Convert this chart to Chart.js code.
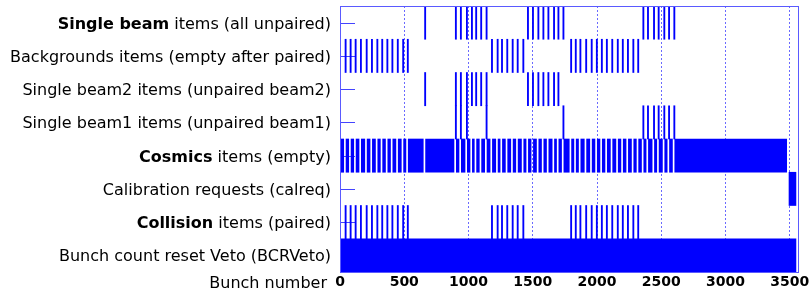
<!DOCTYPE html>
<html>
<head>
<meta charset="utf-8">
<script src="https://cdn.jsdelivr.net/npm/chart.js@4.4.1/dist/chart.umd.min.js"></script>
<style>
  html, body { margin: 0; padding: 0; background: #fff; }
  #wrap { width: 809px; height: 294px; }
</style>
</head>
<body>
<div id="wrap"><canvas id="bunchChart" width="809" height="294"></canvas></div>
<script>
// ── DATA ──────────────────────────────────────────────────────────────────────

// rows, top to bottom, with the part of each label that is printed in bold
const rowNames = [
  "Single beam items (all unpaired)",
  "Backgrounds items (empty after paired)",
  "Single beam2 items (unpaired beam2)",
  "Single beam1 items (unpaired beam1)",
  "Cosmics items (empty)",
  "Calibration requests (calreq)",
  "Collision items (paired)",
  "Bunch count reset Veto (BCRVeto)"
];
const rowBold = ["Single beam", "", "", "", "Cosmics", "", "Collision", ""];

const bunchCount = 3564;
const xTickValues = [0, 500, 1000, 1500, 2000, 2500, 3000, 3500];
const xTitle = "Bunch number";

// filled bunch numbers per row
const singleBeamBunches = [658, 897, 936, 983, 1022, 1055, 1094, 1136, 1458, 1497, 1539, 1578, 1617, 1661, 1695, 1734,
  2356, 2392, 2439, 2475, 2519, 2556, 2597];
const backgroundBunches = [39, 78, 117, 158, 203, 244, 286, 324, 364, 403, 445, 487, 523,
  1178, 1222, 1256, 1297, 1339, 1378, 1422,
  1794, 1830, 1866, 1911, 1954, 1994, 2033, 2072, 2114, 2157, 2196, 2236, 2278, 2316];
const beam2Bunches = [658, 897, 936, 983, 1022, 1055, 1094, 1136, 1458, 1497, 1539, 1578, 1617, 1661, 1695];
const beam1Bunches = [897, 936, 983, 1136, 1734, 2356, 2392, 2439, 2475, 2519, 2556, 2597];
const collisionBunches = [39, 78, 117, 158, 203, 244, 286, 324, 364, 403, 445, 487, 523,
  1178, 1222, 1256, 1297, 1339, 1378, 1422,
  1794, 1830, 1866, 1911, 1954, 1994, 2033, 2072, 2114, 2157, 2196, 2236, 2278, 2316];

// ranges [first, last] for the rows that are mostly filled
const cosmicsRanges = [
  [0, 29], [47, 68], [86, 107], [125, 148], [166, 193], [211, 234], [252, 276], [294, 314], [332, 354],
  [372, 393], [411, 435], [453, 477], [495, 513], [531, 648], [666, 887], [905, 926], [944, 973],
  [991, 1012], [1030, 1045], [1063, 1084], [1102, 1126], [1144, 1168], [1186, 1212], [1230, 1246],
  [1264, 1287], [1305, 1329], [1347, 1368], [1386, 1412], [1430, 1448], [1466, 1487], [1505, 1529],
  [1547, 1568], [1586, 1607], [1625, 1651], [1669, 1685], [1703, 1724], [1742, 1784], [1802, 1820],
  [1838, 1856], [1874, 1901], [1919, 1944], [1962, 1984], [2002, 2023], [2041, 2062], [2080, 2104],
  [2122, 2147], [2165, 2186], [2204, 2226], [2244, 2268], [2286, 2306], [2324, 2346], [2364, 2382],
  [2400, 2429], [2447, 2465], [2483, 2509], [2527, 2546], [2564, 2587], [2605, 3476]
];
const calreqRanges = [[3494, 3548]];
const bcrVetoRanges = [[0, 3548]];

// ── CHART ─────────────────────────────────────────────────────────────────────

const FONT = "DejaVu Sans";
const BLUE = "#0000ff";
const FRAME = "#5a5aff";

function fromBunches(row, bunches) {
  return bunches.map(b => ({ y: rowNames[row], x: [b, b + 1] }));
}
function fromRanges(row, ranges) {
  return ranges.map(r => ({ y: rowNames[row], x: [r[0], r[1]] }));
}

const rowData = [
  fromBunches(0, singleBeamBunches),
  fromBunches(1, backgroundBunches),
  fromBunches(2, beam2Bunches),
  fromBunches(3, beam1Bunches),
  fromRanges(4, cosmicsRanges),
  fromRanges(5, calreqRanges),
  fromBunches(6, collisionBunches),
  fromRanges(7, bcrVetoRanges)
];

const rowDecor = {
  id: "rowDecor",
  beforeDatasetsDraw(chart) {
    // short inward ticks at the centre of each row
    const { ctx, chartArea, scales: { y } } = chart;
    ctx.save();
    ctx.strokeStyle = "#4444ff";
    ctx.lineWidth = 1;
    rowNames.forEach((_, i) => {
      const py = Math.round(y.getPixelForTick(i)) + 0.5;
      ctx.beginPath();
      ctx.moveTo(chartArea.left, py);
      ctx.lineTo(chartArea.left + 15, py);
      ctx.stroke();
    });
    ctx.restore();
  },
  afterDraw(chart) {
    const { ctx, chartArea, scales: { x, y } } = chart;
    ctx.save();
    // frame
    ctx.strokeStyle = FRAME;
    ctx.lineWidth = 1;
    ctx.strokeRect(chartArea.left + 0.5, chartArea.top + 0.5,
      chartArea.right - chartArea.left, chartArea.bottom - chartArea.top);

    // row labels, bold lead word then plain text
    const right = chartArea.left - 9;
    ctx.fillStyle = "#000";
    ctx.textBaseline = "alphabetic";
    ctx.textAlign = "right";
    rowNames.forEach((name, i) => {
      const py = y.getPixelForTick(i) + 6;
      const bold = rowBold[i];
      const rest = name.slice(bold.length);
      ctx.font = `16px "${FONT}"`;
      ctx.fillText(rest, right, py);
      if (bold) {
        const w = ctx.measureText(rest).width;
        ctx.font = `bold 16px "${FONT}"`;
        ctx.fillText(bold, right - w, py);
      }
    });

    // axis title, left of the tick labels
    ctx.font = `16px "${FONT}"`;
    ctx.fillText(xTitle, chartArea.left - 13, x.top + 16);
    ctx.restore();
  }
};

new Chart(document.getElementById("bunchChart"), {
  type: "bar",
  data: {
    labels: rowNames,
    datasets: rowData.map((data, i) => ({
      label: rowNames[i],
      data: data,
      backgroundColor: BLUE,
      borderWidth: 0,
      grouped: false,
      minBarLength: 1.2,
      categoryPercentage: 1,
      barPercentage: 1
    }))
  },
  options: {
    indexAxis: "y",
    responsive: false,
    animation: false,
    devicePixelRatio: 1,
    layout: { padding: { left: 0, right: 11, top: 6, bottom: 0 } },
    plugins: {
      legend: { display: false },
      tooltip: { enabled: false }
    },
    scales: {
      y: {
        type: "category",
        labels: rowNames,
        ticks: { display: false },
        grid: { display: false },
        border: { display: true, color: FRAME },
        afterFit: scale => { scale.width = 340; }
      },
      x: {
        type: "linear",
        min: 0,
        max: bunchCount,
        afterFit: scale => {
          scale.height = 22;
          scale.paddingLeft = 0;
          scale.paddingRight = 0;
        },
        afterBuildTicks: scale => { scale.ticks = xTickValues.map(v => ({ value: v })); },
        ticks: {
          color: "#000",
          padding: 2,
          maxRotation: 0,
          autoSkip: false,
          callback: v => String(v),
          font: { family: FONT, size: 14, weight: "bold" }
        },
        grid: { color: "#6a6aff", drawTicks: false, lineWidth: 1 },
        border: { display: true, color: FRAME, dash: [2, 2] }
      }
    }
  },
  plugins: [rowDecor]
});
</script>
</body>
</html>
